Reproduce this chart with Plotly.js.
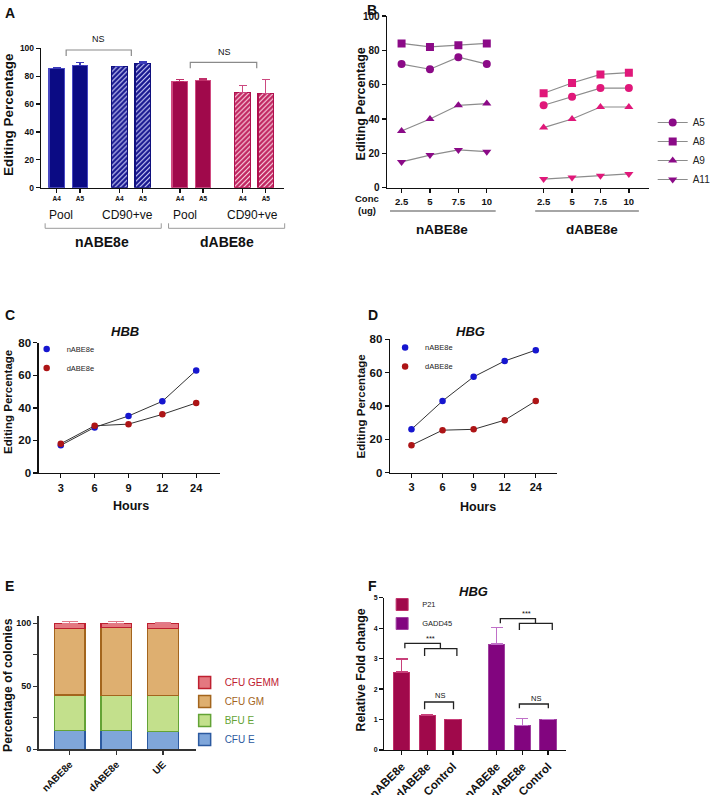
<!DOCTYPE html>
<html><head><meta charset="utf-8">
<script src="https://cdn.plot.ly/plotly-3.0.1.min.js"></script>
<style>html,body{margin:0;padding:0;background:#fff}#chart{width:716px;height:795px}</style>
</head><body><div id="chart"></div>
<script>
// ================= DATA =================
// Panel A
const aGuides = ['A4', 'A5'];
const aSubsets = ['Pool', 'CD90+ve'];
const aEditors = ['nABE8e', 'dABE8e'];
const aNPool = [85.6, 87.5];   const aNPoolErr = [0.5, 2.5];
const aNCd90 = [86.8, 89.2];   const aNCd90Err = [0.3, 1.0];
const aDPool = [76.3, 77.0];   const aDPoolErr = [1.5, 1.0];
const aDCd90 = [68.1, 67.7];   const aDCd90Err = [5.4, 10.1];

// Panel B
const bConc = ['2.5', '5', '7.5', '10'];
const bSites = ['A5', 'A8', 'A9', 'A11'];
const bN_A5 = [72, 69, 76, 72];
const bN_A8 = [84, 82, 83, 84];
const bN_A9 = [33, 40, 48, 49];
const bN_A11 = [15, 19, 22, 21];
const bD_A5 = [48, 53, 58, 58];
const bD_A8 = [55, 61, 66, 67];
const bD_A9 = [35, 40, 47, 47];
const bD_A11 = [5, 6, 7, 8];

// Panel C (HBB) and D (HBG)
const hours = ['3', '6', '9', '12', '24'];
const cN = [17, 28, 35, 44, 63];
const cD = [18, 29, 30, 36, 43];
const dN = [26, 43, 57.5, 67, 73.5];
const dD = [16.5, 25.5, 26, 31.5, 43];

// Panel E
const eSamples = ['nABE8e', 'dABE8e', 'UE'];
const eTypes = ['CFU E', 'BFU E', 'CFU GM', 'CFU GEMM'];
const eCfuE = [15.0, 15.0, 14.3];   const eCfuEErr = [2.1, 2.8, 2.6];
const eBfuE = [28.2, 27.8, 28.2];   const eBfuEErr = [3.4, 4.5, 1.3];
const eCfuGM = [52.6, 53.8, 53.5];  const eCfuGMErr = [0.3, 0.3, 0.3];
const eGemm = [4.2, 3.4, 4.0];      const eGemmErr = [1.2, 1.2, 0.8];

// Panel F
const fGenes = ['P21', 'GADD45'];
const fSamples = ['nABE8e', 'dABE8e', 'Control'];
const fP21 = [2.56, 1.13, 1.0];    const fP21Err = [0.43, 0.04, 0];
const fGadd = [3.48, 0.81, 1.0];   const fGaddErr = [0.54, 0.22, 0];

// ================= LAYOUT HELPERS =================
const FONT = 'Liberation Sans, Arial, Helvetica, sans-serif';
const W = 716, H = 795;
const px = v => v / W;
const py = v => 1 - v / H;
const tf = (size, weight) => ({family: FONT, size: size, color: '#111', weight: weight || 700});

function axis(extra) {
  return Object.assign({
    showgrid: false, zeroline: false, showline: true, linecolor: '#111', linewidth: 1.4,
    ticks: 'outside', ticklen: 4, tickwidth: 1.3, tickcolor: '#111',
    tickfont: tf(9), fixedrange: true, automargin: false
  }, extra);
}
function ann(text, x, y, size, opts) {
  return Object.assign({
    text: text, x: px(x), y: py(y), xref: 'paper', yref: 'paper', showarrow: false,
    font: {family: FONT, size: size, color: '#111'}, xanchor: 'center', yanchor: 'middle'
  }, opts || {});
}
function bracket(x0, x1, yTop, yEnd0, yEnd1, color, w) {
  return {type: 'path', xref: 'paper', yref: 'paper',
    path: 'M' + px(x0) + ',' + py(yEnd0) + ' L' + px(x0) + ',' + py(yTop) +
          ' L' + px(x1) + ',' + py(yTop) + ' L' + px(x1) + ',' + py(yEnd1),
    line: {color: color, width: w}};
}
function hline(x0, x1, y, color, w) {
  return {type: 'line', xref: 'paper', yref: 'paper', x0: px(x0), x1: px(x1), y0: py(y), y1: py(y),
    line: {color: color, width: w}};
}
const upErr = (arr, color, width) => ({type: 'data', symmetric: false, array: arr,
  arrayminus: arr.map(() => 0), color: color, thickness: 1.2, width: width});

const traces = [];

// ---------- Panel A ----------
const aStart = [0, 2.7, 5.3, 8];
const aSets = [
  {y: aNPool, e: aNPoolErr, fill: '#0b0b84', line: '#4a4ac4', err: '#3a3ab8'},
  {y: aNCd90, e: aNCd90Err, fill: '#16168f', line: '#10107e', err: '#3a3ab8', hatch: '#d8d8ff'},
  {y: aDPool, e: aDPoolErr, fill: '#a0094b', line: '#cf4a80', err: '#c0306a'},
  {y: aDCd90, e: aDCd90Err, fill: '#c0245f', line: '#b0104e', err: '#cc4a80', hatch: '#ffe0ec'}
];
const aPos = [];
aSets.forEach((s, k) => {
  const xs = aGuides.map((g, i) => aStart[k] + i);
  aPos.push(...xs);
  const marker = {color: s.fill, line: {color: s.line, width: 1.2}};
  if (s.hatch) marker.pattern = {shape: '/', bgcolor: s.fill, fgcolor: s.hatch, size: 3.5, solidity: 0.3};
  traces.push({type: 'bar', x: xs, y: s.y, width: 0.67, xaxis: 'x', yaxis: 'y', marker: marker,
    error_y: upErr(s.e, s.err, 4), showlegend: false, hoverinfo: 'skip'});
});

// ---------- Panel B ----------
const bSym = ['circle', 'square', 'triangle-up', 'triangle-down'];
const bNser = [bN_A5, bN_A8, bN_A9, bN_A11];
const bDser = [bD_A5, bD_A8, bD_A9, bD_A11];
const bGap = 5;
bSites.forEach((s, k) => {
  traces.push({type: 'scatter', mode: 'lines+markers', x: bConc.map((c, i) => i), y: bNser[k],
    xaxis: 'x2', yaxis: 'y2', name: s, legend: 'legend', legendgroup: s,
    line: {color: '#8c8c8c', width: 1.2}, marker: {symbol: bSym[k], size: 8, color: '#8b0a87'},
    hoverinfo: 'skip'});
  traces.push({type: 'scatter', mode: 'lines+markers', x: bConc.map((c, i) => i + bGap), y: bDser[k],
    xaxis: 'x2', yaxis: 'y2', name: s, legend: 'legend', legendgroup: s, showlegend: false,
    line: {color: '#8c8c8c', width: 1.2}, marker: {symbol: bSym[k], size: 8, color: '#e0187a'},
    hoverinfo: 'skip'});
});
const bTickVals = bConc.map((c, i) => i).concat(bConc.map((c, i) => i + bGap));
const bTickText = bConc.concat(bConc);

// ---------- Panels C, D ----------
const blue = '#1616cf', red = '#ad1416';
function timeTraces(nv, dv, xa, ya, lg) {
  [[nv, blue, 'nABE8e'], [dv, red, 'dABE8e']].forEach(([v, col, nm]) => {
    traces.push({type: 'scatter', mode: 'lines', x: hours, y: v, xaxis: xa, yaxis: ya,
      line: {color: '#333', width: 1}, showlegend: false, hoverinfo: 'skip'});
    traces.push({type: 'scatter', mode: 'markers', x: hours, y: v, xaxis: xa, yaxis: ya,
      name: nm, legend: lg, marker: {size: 6.5, color: col}, hoverinfo: 'skip'});
  });
}
timeTraces(cN, cD, 'x3', 'y3', 'legend2');
timeTraces(dN, dD, 'x4', 'y4', 'legend3');

// ---------- Panel E ----------
const eSets = [
  {y: eCfuE, e: eCfuEErr, fill: '#7fa6da', line: '#2c5aa0', err: '#2c5aa0'},
  {y: eBfuE, e: eBfuEErr, fill: '#c3e08c', line: '#63a336', err: '#9cc56a'},
  {y: eCfuGM, e: eCfuGMErr, fill: '#deaf70', line: '#a3651d', err: '#c89a5a'},
  {y: eGemm, e: eGemmErr, fill: '#e47880', line: '#be2030', err: '#e07a88'}
];
eTypes.forEach((t, k) => {
  const s = eSets[k];
  traces.push({type: 'bar', x: eSamples, y: s.y, width: 0.66, xaxis: 'x5', yaxis: 'y5',
    name: '<span style="color:' + s.line + '">' + t + '</span>', legend: 'legend4',
    marker: {color: s.fill, line: {color: s.line, width: 1.5}},
    error_y: upErr(s.e, s.err, 8), hoverinfo: 'skip'});
});

// ---------- Panel F ----------
const fStart = [0, 3.7];
const fSets = [
  {y: fP21, e: fP21Err, fill: '#a0094b', line: '#c0306a', err: '#c8407a'},
  {y: fGadd, e: fGaddErr, fill: '#82057f', line: '#a040a0', err: '#c070c8'}
];
const fPos = [];
fGenes.forEach((g, k) => {
  const s = fSets[k];
  const xs = fSamples.map((c, i) => fStart[k] + i);
  fPos.push(...xs);
  traces.push({type: 'bar', x: xs, y: s.y, width: 0.64, xaxis: 'x6', yaxis: 'y6', name: g,
    legend: 'legend5', marker: {color: s.fill, line: {color: s.line, width: 1}},
    error_y: upErr(s.e, s.err, 6), hoverinfo: 'skip'});
});

// ================= LAYOUT =================
const legBase = (x, y, size) => ({x: px(x), y: py(y), xanchor: 'left', yanchor: 'top',
  bgcolor: 'rgba(0,0,0,0)', borderwidth: 0, tracegroupgap: 0,
  font: {family: FONT, size: size, color: '#222'},
  itemclick: false, itemdoubleclick: false});

const layout = {
  width: W, height: H, margin: {l: 0, r: 0, t: 0, b: 0},
  paper_bgcolor: '#fff', plot_bgcolor: 'rgba(0,0,0,0)', barmode: 'stack', showlegend: true,
  font: {family: FONT, color: '#111'},
  // A
  xaxis: axis({domain: [px(41.7), px(288)], anchor: 'y', range: [-0.67, 9.8],
    tickvals: aPos, ticktext: aPos.map((p, i) => aGuides[i % 2]), tickfont: tf(6.5)}),
  yaxis: axis({domain: [py(187.7), py(48.3)], anchor: 'x', range: [0, 100], dtick: 20, tickfont: tf(8.5)}),
  // B
  xaxis2: axis({domain: [px(392), px(657)], anchor: 'y2', range: [-0.51, 8.7],
    tickvals: bTickVals, ticktext: bTickText, tickfont: tf(9.5)}),
  yaxis2: axis({domain: [py(187.7), py(16)], anchor: 'x2', range: [0, 100], dtick: 20, tickfont: tf(10)}),
  // C
  xaxis3: axis({domain: [px(39.3), px(222.7)], anchor: 'y3', type: 'category', range: [-0.65, 4.7], tickfont: tf(11)}),
  yaxis3: axis({domain: [py(473), py(342.7)], anchor: 'x3', range: [0, 80], dtick: 20, tickfont: tf(11.5)}),
  // D
  xaxis4: axis({domain: [px(395), px(564.3)], anchor: 'y4', type: 'category', range: [-0.69, 4.69], tickfont: tf(11)}),
  yaxis4: axis({domain: [py(472.7), py(339.3)], anchor: 'x4', range: [0, 80], dtick: 20, tickfont: tf(11.5)}),
  // E
  xaxis5: axis({domain: [px(39), px(199)], anchor: 'y5', type: 'category', range: [-0.67, 2.72],
    tickangle: -45, tickfont: tf(10), linecolor: '#333', tickcolor: '#333'}),
  yaxis5: axis({domain: [py(749.3), py(615.7)], anchor: 'x5', range: [0, 106],
    tickvals: [0, 25, 50, 75, 100], ticktext: ['0', '', '50', '', '100'], tickfont: tf(9),
    linecolor: '#333', tickcolor: '#333'}),
  // F
  xaxis6: axis({domain: [px(389.3), px(573.3)], anchor: 'y6', range: [-0.67, 6.4],
    tickvals: fPos, ticktext: fPos.map((p, i) => fSamples[i % 3]), tickangle: -45, tickfont: tf(11.5)}),
  yaxis6: axis({domain: [py(750), py(597.7)], anchor: 'x6', range: [0, 5], dtick: 1, tickfont: tf(7)}),

  legend: legBase(661, 108, 10),
  legend2: legBase(27, 334.5, 7.5),
  legend3: legBase(390, 333, 7.5),
  legend4: Object.assign(legBase(187, 668, 10), {traceorder: 'reversed'}),
  legend5: Object.assign(legBase(387, 590, 7.5), {traceorder: 'normal'}),

  annotations: [
    // panel letters
    ann('<b>A</b>', 3, 3, 14, {xanchor: 'left', yanchor: 'top'}),
    ann('<b>B</b>', 370, 0, 14, {xanchor: 'left', yanchor: 'top'}),
    ann('<b>C</b>', 3, 305, 14, {xanchor: 'left', yanchor: 'top'}),
    ann('<b>D</b>', 371, 305, 14, {xanchor: 'left', yanchor: 'top'}),
    ann('<b>E</b>', 3, 576, 14, {xanchor: 'left', yanchor: 'top'}),
    ann('<b>F</b>', 371, 576, 14, {xanchor: 'left', yanchor: 'top'}),
    // y titles
    ann('<b>Editing Percentage</b>', 9, 114, 13.5, {textangle: -90}),
    ann('<b>Editing Percentage</b>', 366, 104, 12.5, {textangle: -90}),
    ann('<b>Editing Percentage</b>', 8, 402, 11.5, {textangle: -90}),
    ann('<b>Editing Percentage</b>', 366, 406, 11.5, {textangle: -90}),
    ann('<b>Percentage of colonies</b>', 8, 685, 12.2, {textangle: -90}),
    ann('<b>Relative Fold change</b>', 366, 670, 12.3, {textangle: -90}),
    // A labels
    ann('NS', 100, 39, 9),
    ann('NS', 227, 52, 9),
    ann(aSubsets[0], 62, 215, 12),
    ann(aSubsets[1], 129, 215, 12),
    ann(aSubsets[0], 187, 215, 12),
    ann(aSubsets[1], 255.5, 215, 12),
    ann('<b>' + aEditors[0] + '</b>', 103.5, 242, 14),
    ann('<b>' + aEditors[1] + '</b>', 230, 242, 14),
    // B labels
    ann('<b>Conc</b>', 372, 199, 9.5),
    ann('<b>(ug)</b>', 372, 211, 9.5),
    ann('<b>nABE8e</b>', 448, 230, 13.5),
    ann('<b>dABE8e</b>', 600, 230, 13.5),
    // C, D
    ann('<b><i>HBB</i></b>', 126.7, 331.7, 13),
    ann('<b><i>HBG</i></b>', 476.7, 331.7, 13),
    ann('<b>Hours</b>', 132.7, 506, 12.5),
    ann('<b>Hours</b>', 484, 506.7, 12.5),
    // F
    ann('<b><i>HBG</i></b>', 480, 591.7, 13),
    ann('***', 436, 638.5, 7.5),
    ann('***', 532.7, 613, 7.5),
    ann('NS', 446, 695.7, 7.5),
    ann('NS', 542.7, 698.3, 7.5)
  ],
  shapes: [
    // A
    bracket(67, 133, 50, 56, 56, '#8a8a8a', 1.2),
    bracket(192.7, 260, 62.3, 68.3, 68.3, '#8a8a8a', 1.2),
    bracket(45.7, 163.3, 228.3, 223.3, 223.3, '#9a9a9a', 1),
    bracket(170.7, 288.3, 228.3, 223.3, 223.3, '#9a9a9a', 1),
    // B
    hline(395, 502, 211, '#888', 1.5),
    hline(542, 647, 211, '#888', 1.5),
    // F
    bracket(410, 446, 643.3, 648.3, 648.7, '#222', 1.3),
    bracket(430, 462.7, 648.7, 656, 656, '#222', 1.3),
    bracket(430, 459.3, 702, 709.3, 709.3, '#222', 1.3),
    bracket(506.7, 542.3, 618.7, 623.3, 623.3, '#222', 1.3),
    bracket(526, 559.3, 623.3, 630, 630, '#222', 1.3),
    bracket(526, 555.3, 704, 708.3, 708.3, '#222', 1.3)
  ]
};

Plotly.newPlot('chart', traces, layout, {staticPlot: true, displayModeBar: false});
</script>
</body></html>
